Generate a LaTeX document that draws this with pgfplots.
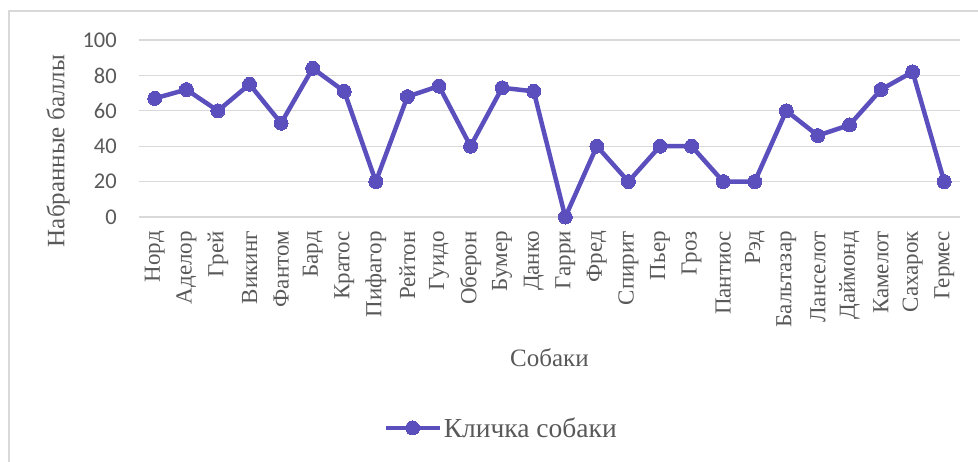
\documentclass[border=0pt]{standalone}
\usepackage{fontspec}
\setmainfont{Liberation Serif}
\newfontfamily\tickfont{Carlito}
\usepackage{pgfplots}
\pgfplotsset{compat=1.18}
\definecolor{serie}{RGB}{91,79,190}
\definecolor{txt}{RGB}{89,89,89}
\definecolor{gridc}{RGB}{217,217,217}
\begin{document}
\begin{tikzpicture}[x=1pt,y=1pt]
\useasboundingbox (0,0) rectangle (978,461);
\fill[white] (0,0) rectangle (978,461);
\begin{scope}
\clip (0,0) rectangle (978,461);
\draw[gridc, line width=1.5pt] (9,450) rectangle (995,-10);
\end{scope}
\begin{axis}[
  at={(139pt,244pt)}, anchor=south west,
  width=821pt, height=177pt, scale only axis,
  xmin=-0.5, xmax=25.5, ymin=0, ymax=100,
  axis line style={draw=none},
  major tick length=0pt,
  ymajorgrids, grid style={gridc, line width=1.2pt},
  xtick={0,...,25},
  xticklabels={Норд,Аделор,Грей,Викинг,Фантом,Бард,Кратос,Пифагор,Рейтон,Гуидо,Оберон,Бумер,Данко,Гарри,Фред,Спирит,Пьер,Гроз,Пантиос,Рэд,Бальтазар,Ланселот,Даймонд,Камелот,Сахарок,Гермес},
  xticklabel style={yshift=-14pt, rotate=90, anchor=east, inner sep=0pt, font=\fontsize{23}{23}\selectfont, text=txt},
  ytick={0,20,40,60,80,100},
  yticklabel style={anchor=east, inner sep=0pt, xshift=-22pt, font=\tickfont\fontsize{22.5}{22.5}\selectfont, text=txt},
  /pgf/number format/assume math mode=true,
  xlabel={Собаки},
  xlabel style={at={(axis description cs:0.5,-0.797)}, anchor=center, font=\fontsize{25}{25}\selectfont, text=txt},
  ylabel={Набранные баллы},
  ylabel style={at={(axis description cs:-0.0987,0.373)}, anchor=center, rotate=0, font=\fontsize{25}{25}\selectfont, text=txt},
  legend style={at={(axis description cs:0.441,-1.192)}, anchor=center, draw=none, fill=none, font=\fontsize{27.5}{27.5}\selectfont, text=txt},
  legend image code/.code={\draw[#1, mark repeat=2, mark phase=2] plot coordinates {(0pt,0pt)(27pt,0pt)(54pt,0pt)};},
]
\addplot[serie, line width=4.5pt, mark=*, mark size=7pt, mark options={fill=serie, draw=serie, line width=0pt}]
coordinates {
(0,67) (1,72) (2,60) (3,75) (4,53) (5,84) (6,71) (7,20) (8,68) (9,74)
(10,40) (11,73) (12,71) (13,0) (14,40) (15,20) (16,40) (17,40) (18,20) (19,20)
(20,60) (21,46) (22,52) (23,72) (24,82) (25,20)
};
\addlegendentry{Кличка собаки}
\end{axis}
\end{tikzpicture}
\end{document}
